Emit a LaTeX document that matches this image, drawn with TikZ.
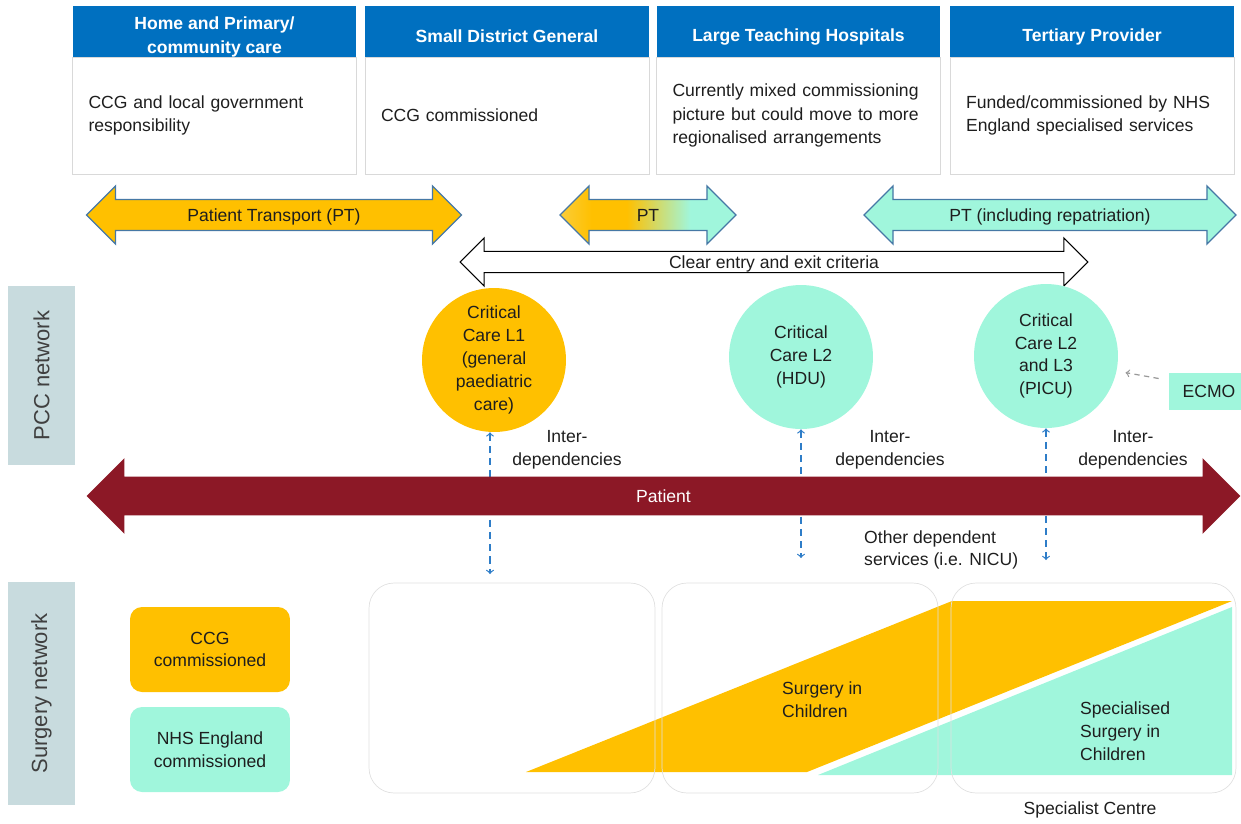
\documentclass[tikz,border=0pt]{standalone}
\usepackage{fontspec}
\setmainfont{Liberation Sans}
\usetikzlibrary{shapes,arrows,positioning}

\definecolor{hdrblue}{RGB}{0,112,192}
\definecolor{ccgorange}{RGB}{255,192,0}
\definecolor{nhscyan}{RGB}{160,246,220}
\definecolor{patred}{RGB}{140,24,38}
\definecolor{ptblue}{RGB}{70,120,165}
\definecolor{depblue}{RGB}{46,125,200}
\definecolor{netgrey}{RGB}{200,219,222}
\definecolor{txtgrey}{RGB}{30,30,30}
\definecolor{palept}{RGB}{235,240,215}
\pgfdeclarehorizontalshading{ptfade}{100bp}{color(0bp)=(palept); color(34bp)=(ccgorange); color(44bp)=(ccgorange); color(62bp)=(nhscyan); color(100bp)=(nhscyan)}

\tikzstyle{hdr} = [rectangle, fill=hdrblue, minimum width=5.68cm, minimum height=1.02cm, inner sep=0pt, outer sep=0pt]
\tikzstyle{hdrtext} = [text=white, font=\fontsize{10}{13.5}\selectfont\bfseries, align=center]
\tikzstyle{body} = [rectangle, draw=black!15, text=txtgrey, align=left, text width=5.04cm, inner xsep=0.32cm, minimum height=2.34cm, outer sep=0pt, font=\fontsize{10}{13.5}\selectfont]
\tikzstyle{ptarrow} = [double arrow, draw=ptblue, line width=0.7pt, text=txtgrey, text height=8pt, text depth=1pt, inner xsep=0pt, inner ysep=4pt, double arrow head extend=0.27cm]
\tikzstyle{clear} = [double arrow, draw=black, fill=white, line width=0.6pt, text=txtgrey, text height=8pt, text depth=1pt, inner xsep=0pt, inner ysep=1.2pt, double arrow head extend=0.27cm]
\tikzstyle{patient} = [double arrow, fill=patred, text=white, text height=8pt, text depth=1pt, inner xsep=0pt, inner ysep=6.3pt, double arrow head extend=0.37cm]
\tikzstyle{care} = [circle, minimum size=2.88cm, inner sep=1pt, align=center, text=txtgrey]
\tikzstyle{netlabel} = [rectangle, fill=netgrey, text=black!75, rotate=90, minimum height=1.34cm, font=\fontsize{12.5}{14}\selectfont]
\tikzstyle{key} = [rectangle, rounded corners=0.24cm, minimum width=3.2cm, minimum height=1.7cm, align=center, text=txtgrey]
\tikzstyle{site} = [rectangle, rounded corners=0.5cm, draw=black!12, minimum height=4.2cm]
\tikzstyle{dep} = [draw=depblue, line width=0.7pt, dash pattern=on 4pt off 3pt, <->]
\tikzstyle{ecmoline} = [draw=black!40, line width=0.7pt, dash pattern=on 3pt off 2.5pt, ->]
\tikzstyle{note} = [align=center, text=txtgrey]

\begin{document}
\begin{tikzpicture}[x=0.02cm, y=-0.02cm, font=\fontsize{10}{13}\selectfont, >=to]
    \useasboundingbox (0,0) rectangle (1241,823);

    % provider columns
    \node [hdr] (hHome) at (214.5,31.5) {};
    \node [hdr] (hSmall) at (507,31.5) {};
    \node [hdr] (hLarge) at (798.5,31.5) {};
    \node [hdr] (hTert) at (1092,31.5) {};
    \node [hdrtext] (tHome) at ([yshift=-0.11cm]hHome) {Home and Primary/\\community care};
    \node [hdrtext] (tSmall) at ([yshift=-0.1cm]hSmall) {Small District General};
    \node [hdrtext] (tLarge) at ([yshift=-0.1cm]hLarge) {Large Teaching Hospitals};
    \node [hdrtext] (tTert) at ([yshift=-0.1cm]hTert) {Tertiary Provider};
    \node [body, below=0pt of hHome] (bHome) {CCG and local government\\responsibility};
    \node [body, below=0pt of hSmall] (bSmall) {CCG commissioned};
    \node [body, below=0pt of hLarge] (bLarge) {Currently mixed commissioning\\picture but could move to more\\regionalised arrangements};
    \node [body, below=0pt of hTert] (bTert) {Funded/commissioned by NHS\\England specialised services};

    % transport
    \node [ptarrow, fill=ccgorange, minimum height=7.5cm] (ptHome) at (274,215) {Patient Transport (PT)};
    \node [ptarrow, shading=ptfade, minimum height=3.52cm] (ptMid) at (648,215) {PT};
    \node [ptarrow, fill=nhscyan, minimum height=7.44cm] (ptTert) at (1050,215) {PT (including repatriation)};
    \node [clear, minimum height=12.56cm] (criteria) at (774,262) {Clear entry and exit criteria};

    % PCC network
    \node [netlabel, minimum width=3.58cm] (pcc) at (41.5,375.5) {PCC network};
    \node [care, fill=ccgorange] (ccL1) at (494,360) {Critical\\Care L1\\(general\\paediatric\\care)};
    \node [care, fill=nhscyan] (ccHDU) at (801,357) {Critical\\Care L2\\(HDU)};
    \node [care, fill=nhscyan] (ccPICU) at (1046,356) {Critical\\Care L2\\and L3\\(PICU)};
    \node [rectangle, fill=nhscyan, text=txtgrey, minimum width=1.6cm, minimum height=0.74cm] (ecmo) at (1209,391.5) {ECMO};
    \draw [ecmoline, shorten >=0.18cm] ([xshift=-0.2cm, yshift=0.26cm]ecmo.west) -- (ccPICU.-12);

    \coordinate (l1Low) at (490,574);
    \coordinate (hduLow) at (801,558);
    \coordinate (picuLow) at (1046,560);
    \draw [dep] (l1Low |- ccL1.south) -- (l1Low);
    \draw [dep] (hduLow |- ccHDU.south) -- (hduLow);
    \draw [dep] (picuLow |- ccPICU.south) -- (picuLow);
    \node [note] (depA) at (567,450) {Inter-\\dependencies};
    \node [note] (depB) at (890,450) {Inter-\\dependencies};
    \node [note] (depC) at (1133,450) {Inter-\\dependencies};

    \node [patient, minimum height=23.08cm] (pat) at (663.5,496) {Patient};
    \node [note, align=left, anchor=west] (other) at (858,550) {Other dependent\\services (i.e. NICU)};

    % surgery network
    \node [netlabel, minimum width=4.46cm] (surgnet) at (41.5,693.5) {Surgery network};
    \node [key, fill=ccgorange] (keyCCG) at (210,649.5) {CCG\\commissioned};
    \node [key, fill=nhscyan] (keyNHS) at (210,749.5) {NHS England\\commissioned};

    \fill [ccgorange] (526,772) -- (807,772) -- (1232,601) -- (952,601) -- cycle;
    \fill [nhscyan] (818,775) -- (1232,775) -- (1232,607) -- cycle;
    \node [site, minimum width=5.72cm] (siteSmall) at (512,688) {};
    \node [site, minimum width=5.52cm] (siteLarge) at (800,688) {};
    \node [site, minimum width=5.7cm] (siteTert) at (1093.5,688) {};
    \node [note, align=left, anchor=west] (surg) at (776,700) {Surgery in\\Children};
    \node [note, align=left, anchor=west] (specSurg) at (1074,731) {Specialised\\Surgery in\\Children};
    \node [note] (centre) at (1090,810) {Specialist Centre};
\end{tikzpicture}
\end{document}
